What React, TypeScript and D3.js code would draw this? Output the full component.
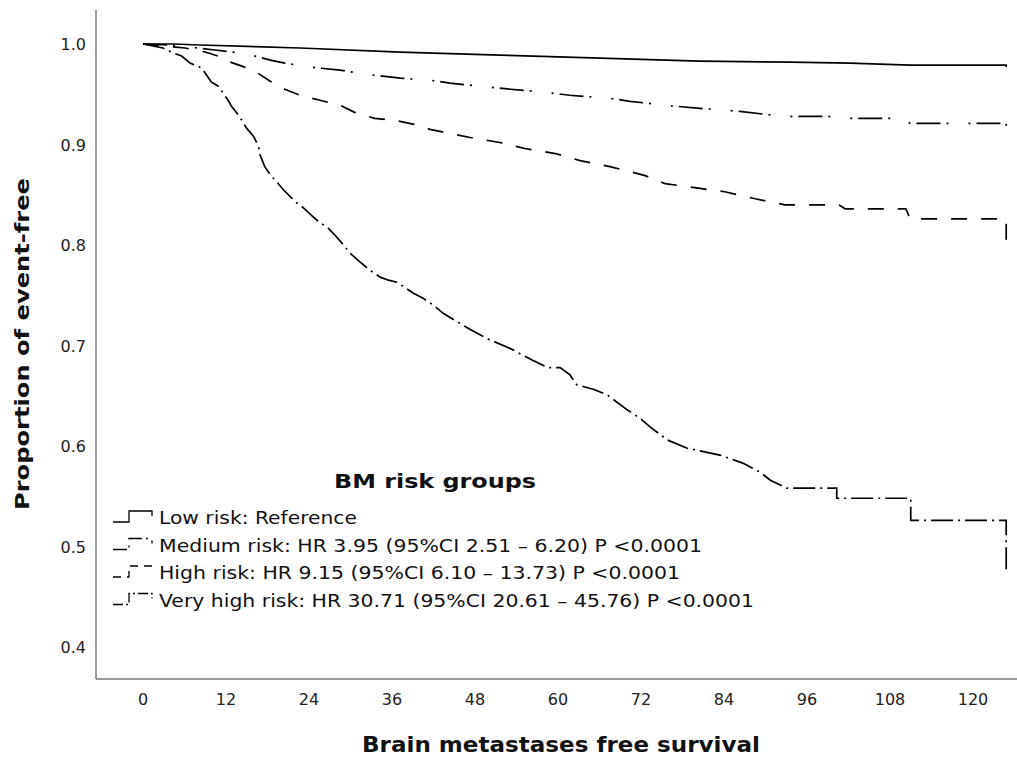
import React, { useRef, useEffect } from "react";
import * as d3 from "d3";

// Kaplan-Meier points: [month, proportion event-free]
// (tails keep their visible flat step + final drop)
const lowRisk: [number, number][] = [
  [0, 1.0], [4.5, 1.0], [8.2, 0.999], [22.7, 0.996], [37.2, 0.992], [51.6, 0.989],
  [66.1, 0.986], [80.5, 0.983], [93.5, 0.982], [102.2, 0.981], [110.9, 0.979],
  [124.8, 0.979], [124.8, 0.977],
];

const mediumRisk: [number, number][] = [
  [0, 1.0], [3.9, 0.999], [6.8, 0.997], [10.4, 0.994], [14.0, 0.991],
  [16.2, 0.988], [18.4, 0.984], [20.5, 0.981], [24.1, 0.977], [28.5, 0.974],
  [32.1, 0.970], [37.2, 0.966], [41.5, 0.964], [44.4, 0.961], [48.7, 0.958],
  [53.1, 0.955], [58.1, 0.952], [61.7, 0.949], [67.5, 0.946], [70.4, 0.943],
  [75.5, 0.939], [80.5, 0.936], [86.3, 0.933], [92.5, 0.928], [99.0, 0.928],
  [101.5, 0.926], [110.0, 0.926], [110.9, 0.921], [124.8, 0.921], [124.8, 0.914],
];

const highRisk: [number, number][] = [
  [0, 1.0], [3.2, 0.998], [6.1, 0.996], [9.0, 0.992], [10.8, 0.988],
  [12.6, 0.982], [14.7, 0.977], [16.6, 0.971], [18.4, 0.963], [20.5, 0.955],
  [22.7, 0.949], [25.6, 0.944], [28.5, 0.939], [30.6, 0.932], [33.5, 0.926],
  [36.4, 0.924], [39.3, 0.920], [41.5, 0.915], [44.4, 0.911], [47.3, 0.907],
  [51.6, 0.902], [55.2, 0.896], [59.6, 0.891], [63.2, 0.884], [67.5, 0.878],
  [70.4, 0.873], [72.6, 0.869], [75.5, 0.861], [79.8, 0.857], [84.1, 0.853],
  [88.5, 0.846], [92.8, 0.840], [100.6, 0.840], [101.5, 0.836], [110.3, 0.836],
  [110.9, 0.826], [124.8, 0.826], [124.8, 0.800],
];

const veryHighRisk: [number, number][] = [
  [0, 1.0], [2.9, 0.996], [4.4, 0.991], [5.6, 0.988], [6.8, 0.981],
  [7.5, 0.979], [8.5, 0.976], [9.2, 0.969], [9.9, 0.962], [10.9, 0.958],
  [11.6, 0.951], [12.3, 0.944], [12.8, 0.938], [13.6, 0.931], [14.3, 0.924],
  [15.0, 0.916], [16.0, 0.908], [16.7, 0.898], [16.9, 0.890], [17.6, 0.878],
  [18.4, 0.870], [19.3, 0.863], [20.3, 0.855], [21.3, 0.848], [22.2, 0.842],
  [23.2, 0.837], [24.6, 0.828], [25.6, 0.822], [26.6, 0.818], [28.0, 0.808],
  [29.0, 0.800], [29.9, 0.792], [31.4, 0.783], [32.8, 0.775], [34.3, 0.768],
  [35.5, 0.765], [36.7, 0.763], [37.6, 0.759], [39.1, 0.752], [40.5, 0.747],
  [42.0, 0.740], [43.4, 0.732], [45.1, 0.725], [46.8, 0.718], [49.7, 0.707],
  [53.1, 0.697], [56.4, 0.685], [58.5, 0.678], [60.3, 0.678], [61.7, 0.671],
  [62.7, 0.661], [65.3, 0.656], [67.1, 0.651], [70.0, 0.636], [71.8, 0.628],
  [73.3, 0.619], [75.8, 0.606], [78.6, 0.598], [83.4, 0.591], [86.7, 0.583],
  [89.2, 0.574], [90.7, 0.566], [93.1, 0.558], [100.3, 0.558], [100.3, 0.548],
  [111.0, 0.548], [111.0, 0.526], [124.8, 0.526], [124.8, 0.475],
];

const xTicks = [0, 12, 24, 36, 48, 60, 72, 84, 96, 108, 120];
const yTicks = [0.4, 0.5, 0.6, 0.7, 0.8, 0.9, 1.0];

const groupLabels = [
  "Low risk: Reference",
  "Medium risk: HR 3.95 (95%CI 2.51 \u2013 6.20) P <0.0001",
  "High risk: HR 9.15 (95%CI 6.10 \u2013 13.73) P <0.0001",
  "Very high risk: HR 30.71 (95%CI 20.61 \u2013 45.76) P <0.0001",
];
const groupLabelWidths = [198, 543, 521, 595];
const groupDashes = ["none", "24,6,2,20,2,6", "16,14", "22,5,2,5"];
const legendDashes = ["none", "14,4,2,6", "8,6", "10,3,2,3"];

const FONT = "'DejaVu Sans', Verdana, sans-serif";

export default function App() {
  const ref = useRef<SVGSVGElement>(null);

  useEffect(() => {
    const width = 1017;
    const svg = d3.select(ref.current);
    svg.selectAll("*").remove();

    const x = d3.scaleLinear().domain([0, 120]).range([143, 973]);
    const y = d3.scaleLinear().domain([0.4, 1.0]).range([647, 44]);

    const frameLeft = 96;
    const frameBottom = 679;

    // axis lines
    svg.append("line")
      .attr("x1", frameLeft).attr("x2", frameLeft)
      .attr("y1", 10).attr("y2", frameBottom)
      .attr("stroke", "#7a7a7a").attr("stroke-width", 1.5);
    svg.append("line")
      .attr("x1", frameLeft).attr("x2", width)
      .attr("y1", frameBottom).attr("y2", frameBottom)
      .attr("stroke", "#7a7a7a").attr("stroke-width", 1.5);

    // tick labels
    svg.append("g")
      .selectAll("text")
      .data(yTicks)
      .join("text")
      .attr("x", 86)
      .attr("y", (d) => y(d) + 6)
      .attr("text-anchor", "end")
      .style("font", `16px ${FONT}`)
      .attr("fill", "#222")
      .text((d) => d.toFixed(1));

    svg.append("g")
      .selectAll("text")
      .data(xTicks)
      .join("text")
      .attr("x", (d) => x(d))
      .attr("y", 705)
      .attr("text-anchor", "middle")
      .style("font", `16px ${FONT}`)
      .attr("fill", "#222")
      .text((d) => d);

    // axis titles
    svg.append("text")
      .attr("transform", "translate(29,344) rotate(-90)")
      .attr("text-anchor", "middle")
      .attr("textLength", 332)
      .attr("lengthAdjust", "spacingAndGlyphs")
      .style("font", `bold 20px ${FONT}`)
      .attr("fill", "#111")
      .text("Proportion of event-free");

    svg.append("text")
      .attr("x", 561)
      .attr("y", 752)
      .attr("text-anchor", "middle")
      .attr("textLength", 398)
      .attr("lengthAdjust", "spacingAndGlyphs")
      .style("font", `bold 20.5px ${FONT}`)
      .attr("fill", "#111")
      .text("Brain metastases free survival");

    // curves
    const line = d3.line<[number, number]>()
      .x((d) => x(d[0]))
      .y((d) => y(d[1]));

    const series = [lowRisk, mediumRisk, highRisk, veryHighRisk];
    series.forEach((s, i) => {
      svg.append("path")
        .datum(s)
        .attr("fill", "none")
        .attr("stroke", "#000")
        .attr("stroke-width", 1.7)
        .attr("stroke-dasharray", groupDashes[i])
        .attr("d", line);
    });

    // legend
    svg.append("text")
      .attr("x", 435)
      .attr("y", 488)
      .attr("text-anchor", "middle")
      .attr("textLength", 202)
      .attr("lengthAdjust", "spacingAndGlyphs")
      .style("font", `bold 19px ${FONT}`)
      .attr("fill", "#111")
      .text("BM risk groups");

    const rowY = (i: number) => 524 + i * 27.5;
    const lg = svg.append("g");
    groupLabels.forEach((label, i) => {
      const b = rowY(i);
      lg.append("path")
        .attr("d", `M113,${b - 2}H129V${b - 13}H152V${b - 8}`)
        .attr("fill", "none")
        .attr("stroke", "#000")
        .attr("stroke-width", 1.3)
        .attr("stroke-dasharray", legendDashes[i]);
      lg.append("text")
        .attr("x", 159)
        .attr("y", b)
        .attr("textLength", groupLabelWidths[i])
        .attr("lengthAdjust", "spacingAndGlyphs")
        .style("font", `17.5px ${FONT}`)
        .attr("fill", "#111")
        .text(label);
    });
  }, []);

  return (
    <svg
      ref={ref}
      width={1017}
      height={757}
      style={{ position: "absolute", left: 0, top: 0, background: "#fff" }}
    />
  );
}
